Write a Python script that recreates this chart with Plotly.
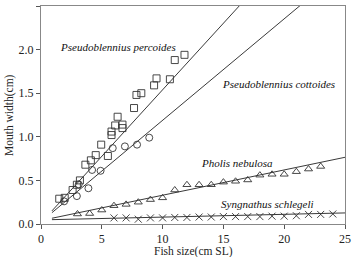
import plotly.graph_objects as go

# P. percoides (squares)
perc_x = [1.5, 1.95, 2.6, 2.95, 3.2, 3.65, 4.1, 4.5, 4.95, 5.5, 5.8, 5.8, 6.1, 6.3, 6.7, 6.7, 7.65, 7.85, 8.25, 9.3, 9.5, 10.6, 11.0, 11.8]
perc_y = [0.29, 0.30, 0.39, 0.45, 0.50, 0.68, 0.73, 0.79, 0.91, 0.78, 1.02, 1.06, 1.13, 1.23, 1.10, 1.14, 1.33, 1.48, 1.50, 1.59, 1.67, 1.66, 1.88, 1.94]
# P. cottoides (circles)
cott_x = [1.9, 2.95, 3.1, 3.9, 4.2, 4.9, 5.9, 6.9, 7.9, 8.9]
cott_y = [0.26, 0.32, 0.455, 0.41, 0.62, 0.61, 0.87, 0.89, 0.91, 0.99]
# Pholis nebulosa (triangles)
phol_x = [3, 4, 5, 6, 7, 8, 9, 10, 11, 12, 13, 14, 15, 16, 17, 18, 19, 20, 21, 22, 23]
phol_y = [0.115, 0.12, 0.16, 0.21, 0.225, 0.25, 0.28, 0.30, 0.39, 0.45, 0.45, 0.45, 0.48, 0.49, 0.505, 0.56, 0.57, 0.57, 0.60, 0.63, 0.66]
# Syngnathus schlegeli (crosses)
syng_x = [6, 7, 8, 9, 10, 11, 12, 13, 14, 15, 16, 17, 18, 19, 20, 21, 22, 23, 24]
syng_y = [0.07, 0.07, 0.055, 0.07, 0.07, 0.075, 0.075, 0.08, 0.08, 0.085, 0.085, 0.085, 0.085, 0.09, 0.09, 0.095, 0.11, 0.11, 0.115]

# regression lines: slope, intercept
fit_perc = (0.1526, 0.013)
fit_cott = (0.1164, 0.025)
fit_phol = (0.029, 0.04)
fit_syng = (0.0032, 0.047)
fit_x = [0.9, 25]

labels = ["Pseudoblennius percoides", "Pseudoblennius cottoides", "Pholis nebulosa", "Syngnathus schlegeli"]
label_x = [6.33, 19.5, 16.1, 18.6]
label_y = [2.03, 1.61, 0.70, 0.226]

x_ticks = [0, 5, 10, 15, 20, 25]
y_ticks = [0.0, 0.5, 1.0, 1.5, 2.0, 2.5]

FONT = "Liberation Serif"
TXT = "#222222"
mc = "#333333"
fig = go.Figure()
for (s, b) in [fit_perc, fit_cott, fit_phol, fit_syng]:
    fig.add_trace(go.Scatter(x=fit_x, y=[s * v + b for v in fit_x], mode="lines",
                             line=dict(color="#222222", width=0.9), hoverinfo="skip"))
fig.add_trace(go.Scatter(x=perc_x, y=perc_y, mode="markers",
                         marker=dict(symbol="square-open", size=7, color=mc, line=dict(width=0.9))))
fig.add_trace(go.Scatter(x=cott_x, y=cott_y, mode="markers",
                         marker=dict(symbol="circle-open", size=7, color=mc, line=dict(width=0.9))))
fig.add_trace(go.Scatter(x=phol_x, y=phol_y, mode="markers",
                         marker=dict(symbol="triangle-up-open", size=7, color=mc, line=dict(width=0.9))))
fig.add_trace(go.Scatter(x=syng_x, y=syng_y, mode="markers",
                         marker=dict(symbol="x-thin-open", size=7, color=mc, line=dict(width=0.9))))

for t, x, y in zip(labels, label_x, label_y):
    fig.add_annotation(x=x, y=y, text="<i>%s</i>" % t, showarrow=False,
                       font=dict(family=FONT, size=11, color="#111111"))

# axis titles
fig.add_annotation(xref="paper", yref="paper", x=0.5, y=0, yanchor="top", yshift=-19,
                   text="Fish size(cm SL)", showarrow=False,
                   font=dict(family=FONT, size=11.5, color=TXT))
fig.add_annotation(xref="paper", yref="paper", x=0, y=0.5, xanchor="center", xshift=-32,
                   text="Mouth width(cm)", textangle=-90, showarrow=False,
                   font=dict(family=FONT, size=11.5, color=TXT))

axis_common = dict(showgrid=False, zeroline=False, showline=True, mirror=True, automargin=False,
                   linecolor="#888888", linewidth=1, ticks="outside", ticklen=4,
                   tickcolor="#555555", tickfont=dict(family=FONT, size=12, color=TXT))
fig.update_xaxes(range=[0, 25], tickvals=x_ticks, ticktext=[str(v) for v in x_ticks], **axis_common)
fig.update_yaxes(range=[0, 2.5], tickvals=y_ticks, ticktext=["%.1f" % v for v in y_ticks], **axis_common)
fig.update_layout(width=353, height=257, margin=dict(l=41, r=8, t=6, b=33),
                  plot_bgcolor="white", paper_bgcolor="white", showlegend=False)
fig.write_html("out.html")
